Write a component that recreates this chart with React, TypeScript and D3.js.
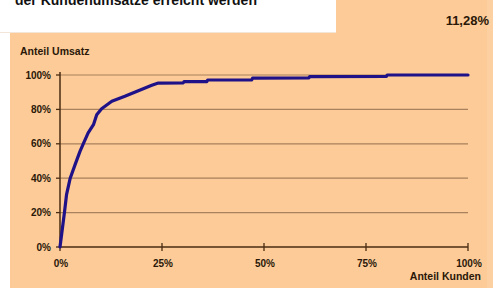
import React from "react";
import * as d3 from "d3";

// Anteil Kunden (%) -> Anteil Umsatz (%)
const kundenAnteil = [0, 0.6, 1.1, 1.6, 2.5, 3.7, 4.9, 5.7, 6.9, 8.2, 9.0, 10.2, 12.7, 15.9, 19.2, 22.5, 24.1, 30.2, 30.4, 36, 36.2, 47, 47.2, 61, 61.2, 80, 80.2, 100];
const umsatzAnteil = [0, 11, 20.3, 30.4, 40, 47.9, 55.6, 59.9, 66.3, 71.1, 76.9, 80.4, 84.7, 87.6, 90.9, 94, 95.3, 95.4, 96.1, 96.2, 97.1, 97.2, 98.2, 98.3, 99.1, 99.2, 100, 100];

const yTicks = [0, 20, 40, 60, 80, 100];
const xTicks = [0, 25, 50, 75, 100];

const titelText = "der Kundenumsätze erreicht werden";
const kennzahl = "11,28%";

const PEACH = "#fccb98";
const FONT = "'Liberation Sans', Arial, sans-serif";
const INK = "#2a1808";

export default function App() {
  const width = 493;
  const height = 291;
  const margin = { left: 60, right: 25, top: 75, bottom: 44 };

  const x = d3.scaleLinear().domain([0, 100]).range([margin.left, width - margin.right]);
  const y = d3.scaleLinear().domain([0, 100]).range([height - margin.bottom, margin.top]);

  const data = kundenAnteil.map((k, i) => ({ k, u: umsatzAnteil[i] }));
  const line = d3
    .line<{ k: number; u: number }>()
    .x((d) => x(d.k))
    .y((d) => y(d.u));

  return (
    <svg
      width={width}
      height={height}
      style={{ position: "absolute", left: 0, top: 0, background: "#fff" }}
      fontFamily={FONT}
    >
      {/* Hintergrund */}
      <rect x={0} y={0} width={width} height={height} fill="#fff" />
      <rect x={336} y={0} width={width - 336} height={34} fill={PEACH} />
      <rect x={10} y={33} width={width - 10} height={255} fill={PEACH} />
      <rect x={487} y={0} width={6} height={288} fill="#fdd0a2" />
      <line x1={0} x2={336} y1={32.5} y2={32.5} stroke="#f3e6d8" />

      {/* Titel, oben abgeschnitten wie im Original */}
      <text x={15} y={5} fontSize={14} fontWeight="bold" fill="#111">
        {titelText}
      </text>
      <text x={489} y={25} fontSize={13} fontWeight="bold" fill={INK} textAnchor="end">
        {kennzahl}
      </text>

      {/* Gitterlinien */}
      {yTicks.filter((t) => t > 0).map((t) => (
        <line
          key={"g" + t}
          x1={x(0)}
          x2={x(100)}
          y1={y(t)}
          y2={y(t)}
          stroke="#a9815c"
          strokeWidth={1.2}
        />
      ))}

      {/* Achsen */}
      <line x1={x(0)} x2={x(0)} y1={y(0)} y2={y(100) - 3} stroke="#4a2c12" strokeWidth={1.5} />
      <line x1={x(0)} x2={x(100)} y1={y(0)} y2={y(0)} stroke="#4a2c12" strokeWidth={1.5} />
      {yTicks.map((t) => (
        <g key={"y" + t}>
          <line x1={x(0) - 4} x2={x(0)} y1={y(t)} y2={y(t)} stroke="#4a2c12" strokeWidth={1.3} />
          <text
            x={x(0) - 9}
            y={y(t) + 3.5}
            fontSize={10}
            fontWeight="bold"
            fill={INK}
            textAnchor="end"
          >
            {t}%
          </text>
        </g>
      ))}
      {xTicks.map((t) => (
        <g key={"x" + t}>
          <line x1={x(t)} x2={x(t)} y1={y(0) - 4} y2={y(0) + 4} stroke="#4a2c12" strokeWidth={1.3} />
          <text x={x(t) + 1} y={y(0) + 20} fontSize={10} fontWeight="bold" fill={INK} textAnchor="middle">
            {t}%
          </text>
        </g>
      ))}

      <text x={20} y={55} fontSize={10.5} fontWeight="bold" fill={INK}>
        Anteil Umsatz
      </text>
      <text x={481} y={280} fontSize={10.5} fontWeight="bold" fill={INK} textAnchor="end">
        Anteil Kunden
      </text>

      {/* Konzentrationskurve */}
      <path
        d={line(data) || ""}
        fill="none"
        stroke="#1f1288"
        strokeWidth={3.2}
        strokeLinejoin="round"
        strokeLinecap="round"
      />
    </svg>
  );
}
